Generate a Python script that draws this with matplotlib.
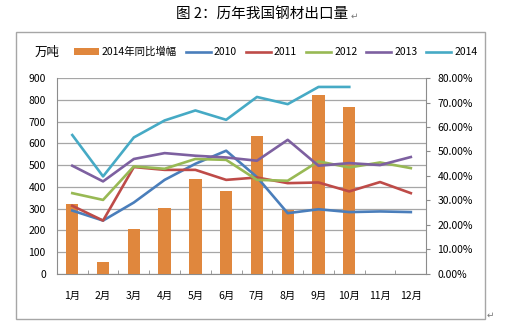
import matplotlib
matplotlib.use('Agg')
import matplotlib.pyplot as plt
from matplotlib.ticker import PercentFormatter, MultipleLocator
from matplotlib.patches import Rectangle

plt.rcParams['font.family'] = ['Noto Sans CJK SC', 'DejaVu Sans']

months = ['1月', '2月', '3月', '4月', '5月', '6月', '7月', '8月', '9月', '10月', '11月', '12月']

# 万吨
exports_2010 = [291, 245, 328, 432, 506, 566, 445, 279, 297, 284, 287, 284]
exports_2011 = [313, 245, 491, 478, 478, 432, 443, 417, 420, 379, 422, 371]
exports_2012 = [371, 340, 494, 483, 528, 524, 432, 428, 517, 489, 512, 486]
exports_2013 = [497, 425, 528, 555, 543, 535, 520, 616, 497, 509, 500, 537]
exports_2014 = [638, 448, 627, 705, 751, 708, 813, 780, 859, 859]

# 2014年同比增幅 (%)
growth_2014 = [28.6, 5.0, 18.4, 26.9, 38.7, 33.7, 56.4, 26.2, 73.2, 68.2]

series = [
    ('2010', exports_2010, '#4A7EBB'),
    ('2011', exports_2011, '#BE4B48'),
    ('2012', exports_2012, '#98B954'),
    ('2013', exports_2013, '#7D60A0'),
    ('2014', exports_2014, '#46AAC5'),
]
bar_color = '#E0873D'
axis_gray = '#8C8C8C'

fig = plt.figure(figsize=(5.08, 3.32), dpi=100)
fig.patch.set_facecolor('white')

# chart frame
fig.patches.append(Rectangle((0.0315, 0.039), 0.923, 0.864, transform=fig.transFigure,
                             fill=False, edgecolor='#A6A6A6', linewidth=1.0))

rect = [0.112, 0.175, 0.727, 0.590]
ax = fig.add_axes(rect)          # left axis + grid
ax2 = ax.twinx()                 # bars, right axis
ax3 = ax.twinx()                 # lines on left scale
ax.set_zorder(1)
ax2.set_zorder(2)
ax3.set_zorder(3)
ax2.patch.set_visible(False)
ax3.patch.set_visible(False)

x = list(range(len(months)))

ax.set_ylim(0, 900)
ax.set_xlim(-0.5, 11.5)
ax.yaxis.set_major_locator(MultipleLocator(100))
ax.grid(axis='y', color='#A6A6A6', linewidth=0.9)
ax.set_axisbelow(True)
ax.set_xticks(x)
ax.set_xticklabels(months)
ax.set_xticks([i + 0.5 for i in range(-1, 12)], minor=True)
ax.tick_params(axis='x', which='major', length=0, pad=12, labelsize=7.5)
ax.tick_params(axis='x', which='minor', length=3, direction='in', color=axis_gray)
ax.tick_params(axis='y', length=0, pad=8, labelsize=7.5)
for s in ['top', 'right']:
    ax.spines[s].set_visible(False)
for s in ['left', 'bottom']:
    ax.spines[s].set_color(axis_gray)

ax2.bar(x[:len(growth_2014)], [g / 100 for g in growth_2014], width=0.4, color=bar_color,
        label='2014年同比增幅')
ax2.set_ylim(0, 0.8)
ax2.yaxis.set_major_locator(MultipleLocator(0.1))
ax2.yaxis.set_major_formatter(PercentFormatter(1.0, decimals=2))
ax2.tick_params(axis='y', length=3, color=axis_gray, pad=5, labelsize=7.5)
for s in ['top', 'left', 'bottom']:
    ax2.spines[s].set_visible(False)
ax2.spines['right'].set_color(axis_gray)

for name, vals, c in series:
    ax3.plot(x[:len(vals)], vals, color=c, linewidth=1.9, label=name)
ax3.set_ylim(0, 900)
ax3.set_xlim(-0.5, 11.5)
ax3.axis('off')

handles = ax2.get_legend_handles_labels()[0] + ax3.get_legend_handles_labels()[0]
labels = ax2.get_legend_handles_labels()[1] + ax3.get_legend_handles_labels()[1]
fig.legend(handles, labels, loc='center left', bbox_to_anchor=(0.145, 0.843), ncol=6,
           frameon=False, fontsize=7.5, handlelength=2.4, handletextpad=0.3,
           columnspacing=0.85, borderpad=0, borderaxespad=0, handleheight=0.6)

fig.text(0.093, 0.843, '万吨', ha='center', va='center', fontsize=9)
fig.text(0.516, 0.958, '图 2：历年我国钢材出口量', ha='center', va='center', fontsize=10.5)
fig.text(0.690, 0.950, '↵', ha='left', va='center', fontsize=6.5, color='#777777')
fig.text(0.958, 0.052, '↵', ha='left', va='center', fontsize=6.5, color='#777777')

fig.savefig('out.png', dpi=100)
